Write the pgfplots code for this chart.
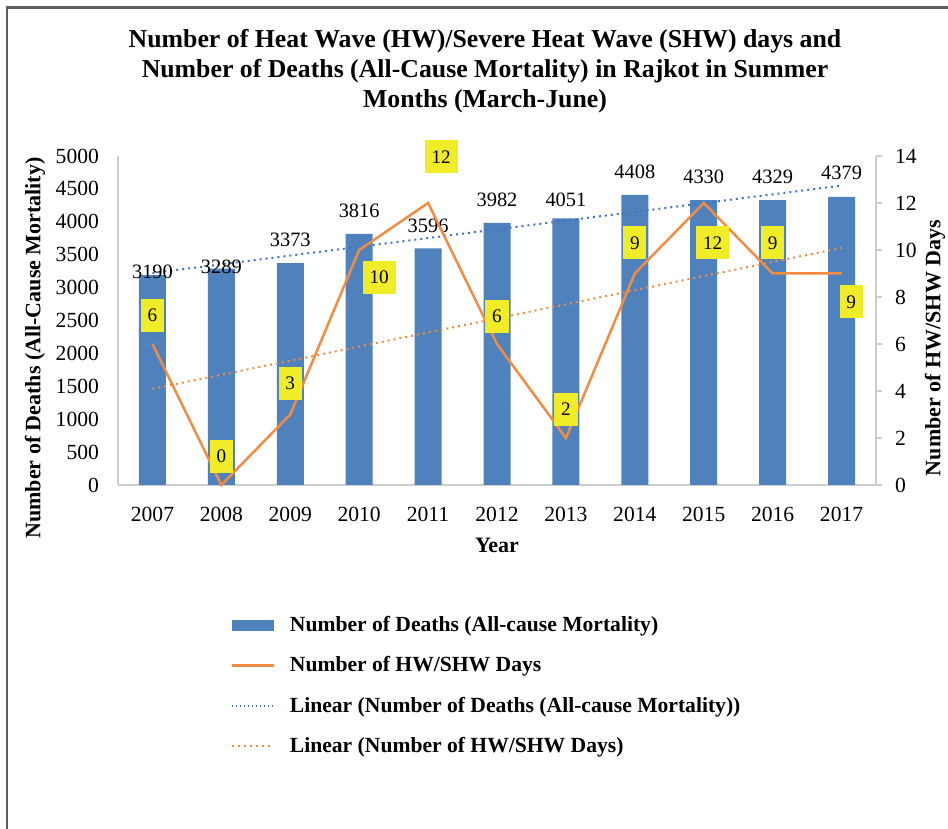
\documentclass[border=0pt]{standalone}
\usepackage{fontspec}
\setmainfont{Liberation Serif}
\usepackage{pgfplots}
\pgfplotsset{compat=1.18}

\definecolor{barblue}{RGB}{79,129,189}
\definecolor{trendblue}{RGB}{68,114,196}
\definecolor{hworange}{RGB}{242,140,66}
\definecolor{boxyellow}{RGB}{240,236,40}
\definecolor{axisgray}{RGB}{205,205,205}
\definecolor{framegray}{RGB}{95,95,95}

\newcommand\tickfont{\fontsize{10.8}{12}\selectfont}
\newcommand\barfont{\fontsize{10.2}{12}\selectfont}
\newcommand\boxfont{\fontsize{9.6}{11}\selectfont}
\newcommand\labfont{\bfseries\fontsize{11}{13}\selectfont}
\newcommand\legfont{\bfseries\fontsize{10.8}{13}\selectfont}

\pgfplotsset{
  common/.style={
    at={(origin)}, anchor=south west,
    width=379pt, height=164.5pt, scale only axis,
    xmin=-0.5, xmax=10.5, clip=false,
    axis line style={axisgray, line width=0.7pt},
    tick label style={font=\tickfont},
    /pgf/number format/assume math mode=true,
    /pgf/number format/1000 sep={},
  },
  legline/.style={legend image code/.code={\draw (0pt,0pt) -- (21pt,0pt);}},
}
\tikzset{
  hwbox/.style={fill=boxyellow, font=\boxfont, inner xsep=3.4pt, inner ysep=0pt,
                minimum height=16.5pt, text height=6.6pt, text depth=0pt},
  barlab/.style={font=\barfont},
  trend/.style={line width=1pt, dash pattern=on 1pt off 2pt},
}

\begin{document}
\begin{tikzpicture}[x=0.5pt,y=0.5pt]
\useasboundingbox (0,0) rectangle (948,829);
\draw[framegray, line width=1.1pt] (7,0) -- (7,821.5) -- (948,821.5);
\coordinate (origin) at (118,344);

\node[font=\bfseries\fontsize{12.9}{15}\selectfont, align=center] at (485,758)
  {Number of Heat Wave (HW)/Severe Heat Wave (SHW) days and\\
   Number of Deaths (All-Cause Mortality) in Rajkot in Summer\\
   Months (March-June)};

% left axis: deaths
\begin{axis}[common,
  axis x line*=bottom, axis y line*=left,
  ymin=0, ymax=5000, ytick={0,500,...,5000},
  xtick={0,...,10},
  xticklabels={2007,2008,2009,2010,2011,2012,2013,2014,2015,2016,2017},
  major tick length=0pt,
  yticklabel style={xshift=-6pt},
  xticklabel style={yshift=-7.5pt},
  xlabel={Year},
  xlabel style={font=\labfont, at={(axis description cs:0.5,-0.1824)}, anchor=center},
  ylabel={Number of Deaths (All-Cause Mortality)},
  ylabel style={font=\labfont, at={(axis description cs:-0.1095,0.4164)}, anchor=center},
]
\addplot[ybar, bar width=13.5pt, bar shift=0pt, fill=barblue, draw=none]
  coordinates {(0,3190) (1,3289) (2,3373) (3,3816) (4,3596) (5,3982)
               (6,4051) (7,4408) (8,4330) (9,4329) (10,4379)};
% linear trend of deaths
\addplot[trendblue, trend] coordinates {(0,3221.4) (10,4550.0)};
% bar labels as placed in the source
\node[barlab] at (axis cs:0,3237) {3190};
\node[barlab] at (axis cs:1,3313) {3289};
\node[barlab] at (axis cs:2,3723) {3373};
\node[barlab] at (axis cs:3,4164) {3816};
\node[barlab] at (axis cs:4,3936) {3596};
\node[barlab] at (axis cs:5,4331) {3982};
\node[barlab] at (axis cs:6,4331) {4051};
\node[barlab] at (axis cs:7,4757) {4408};
\node[barlab] at (axis cs:8,4681) {4330};
\node[barlab] at (axis cs:9,4681) {4329};
\node[barlab] at (axis cs:10,4742) {4379};
\end{axis}

% right axis: HW/SHW days
\begin{axis}[common,
  axis y line*=right, axis x line=none, xtick=\empty,
  ymin=0, ymax=14, ytick={0,2,...,14},
  tick align=outside, major tick length=3pt,
  ytick style={axisgray, line width=0.7pt},
  yticklabel style={xshift=3pt},
  ylabel={Number of HW/SHW Days},
  ylabel style={font=\labfont, at={(axis description cs:1.0778,0.4164)}, anchor=center},
  legend style={at={(rel axis cs:0.1478,-0.386)}, anchor=north west,
    draw=none, fill=none, font=\legfont, inner sep=0pt, row sep=7pt,
    cells={anchor=west},
    /tikz/every odd column/.append style={column sep=5.5pt}},
  legend cell align=left,
]
\addlegendimage{fill=barblue, draw=none,
  legend image code/.code={\fill (0pt,-2.75pt) rectangle (21pt,2.75pt);}}
\addlegendentry{Number of Deaths (All-cause Mortality)}
\addplot[hworange, line width=1.25pt, legline]
  coordinates {(0,6) (1,0) (2,3) (3,10) (4,12) (5,6) (6,2) (7,9) (8,12) (9,9) (10,9)};
\addlegendentry{Number of HW/SHW Days}
\addlegendimage{trendblue, line width=0.8pt, dash pattern=on 0.8pt off 1.2pt, legline}
\addlegendentry{Linear (Number of Deaths (All-cause Mortality))}
% linear trend of HW/SHW days
\addplot[hworange, trend, legline] coordinates {(0,4.091) (10,10.091)};
\addlegendentry{Linear (Number of HW/SHW Days)}
% value boxes as placed in the source
\node[hwbox] at (axis cs:0,7.23) {6};
\node[hwbox] at (axis cs:1,1.23) {0};
\node[hwbox] at (axis cs:2,4.34) {3};
\node[hwbox] at (axis cs:3.29,8.85) {10};
\node[hwbox] at (axis cs:4.19,13.96) {12};
\node[hwbox] at (axis cs:5,7.19) {6};
\node[hwbox] at (axis cs:6,3.23) {2};
\node[hwbox] at (axis cs:7,10.3) {9};
\node[hwbox] at (axis cs:8.13,10.3) {12};
\node[hwbox] at (axis cs:9,10.3) {9};
\node[hwbox] at (axis cs:10.14,7.79) {9};
\end{axis}
\end{tikzpicture}
\end{document}
